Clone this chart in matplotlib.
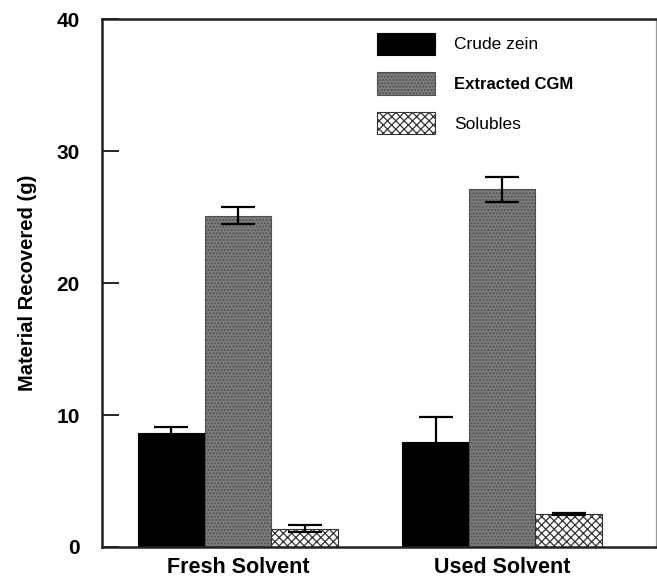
import numpy as np
import matplotlib.pyplot as plt

# material recovered per fraction, fresh vs used solvent
groups = ['Fresh Solvent', 'Used Solvent']
series = ['Crude zein', 'Extracted CGM', 'Solubles']
means = {
    'Crude zein':    [8.65, 7.98],
    'Extracted CGM': [25.1, 27.1],
    'Solubles':      [1.40, 2.50],
}
errs = {
    'Crude zein':    [0.43, 1.87],
    'Extracted CGM': [0.64, 0.96],
    'Solubles':      [0.30, 0.10],
}

plt.rcParams['font.family'] = ['Liberation Sans', 'DejaVu Sans']
plt.rcParams['hatch.linewidth'] = 0.9

styles = {
    'Crude zein':    dict(facecolor='black', edgecolor='black', hatch=None),
    'Extracted CGM': dict(facecolor='#7c7c7c', edgecolor='#505050', hatch='.....'),
    'Solubles':      dict(facecolor='white', edgecolor='#333333', hatch='xxxx'),
}

fig = plt.figure(figsize=(6.57, 5.79), dpi=100)
ax = fig.add_axes([0.1553, 0.0553, 0.8432, 0.9117])

x = np.arange(len(groups))
w = 0.252
for i, s in enumerate(series):
    pos = x + (i - 1) * w
    ax.bar(pos, means[s], w, linewidth=0.8, label=s, **styles[s])
    ax.errorbar(pos, means[s], yerr=errs[s], fmt='none', ecolor='black',
                elinewidth=1.6, capsize=12, capthick=1.6)

ax.set_xlim(-0.515, 1.583)
ax.set_ylim(0, 40)
ax.set_yticks([0, 10, 20, 30, 40])
ax.set_xticks(x)
ax.set_xticklabels(groups, fontsize=15.5, fontweight='bold')
ax.tick_params(axis='x', length=0, pad=7)
ax.tick_params(axis='y', direction='in', length=12, width=1.2, labelsize=15, pad=16)
for lab in ax.get_yticklabels():
    lab.set_fontweight('bold')
ax.set_ylabel('Material Recovered (g)', fontsize=14.5, fontweight='semibold', labelpad=14)

for side in ['left', 'top', 'bottom']:
    ax.spines[side].set_linewidth(1.8)
    ax.spines[side].set_color('#222222')
ax.spines['right'].set_linewidth(1.0)
ax.spines['right'].set_color('#999999')

leg = ax.legend(loc='upper left', bbox_to_anchor=(0.468, 1.004), frameon=False,
                handlelength=3.35, handleheight=1.6, labelspacing=1.0,
                handletextpad=1.1, fontsize=12.5)
for t, s in zip(leg.get_texts(), series):
    if s == 'Extracted CGM':
        t.set_fontweight('bold')
        t.set_fontsize(12)

fig.savefig('out.png', dpi=100)
